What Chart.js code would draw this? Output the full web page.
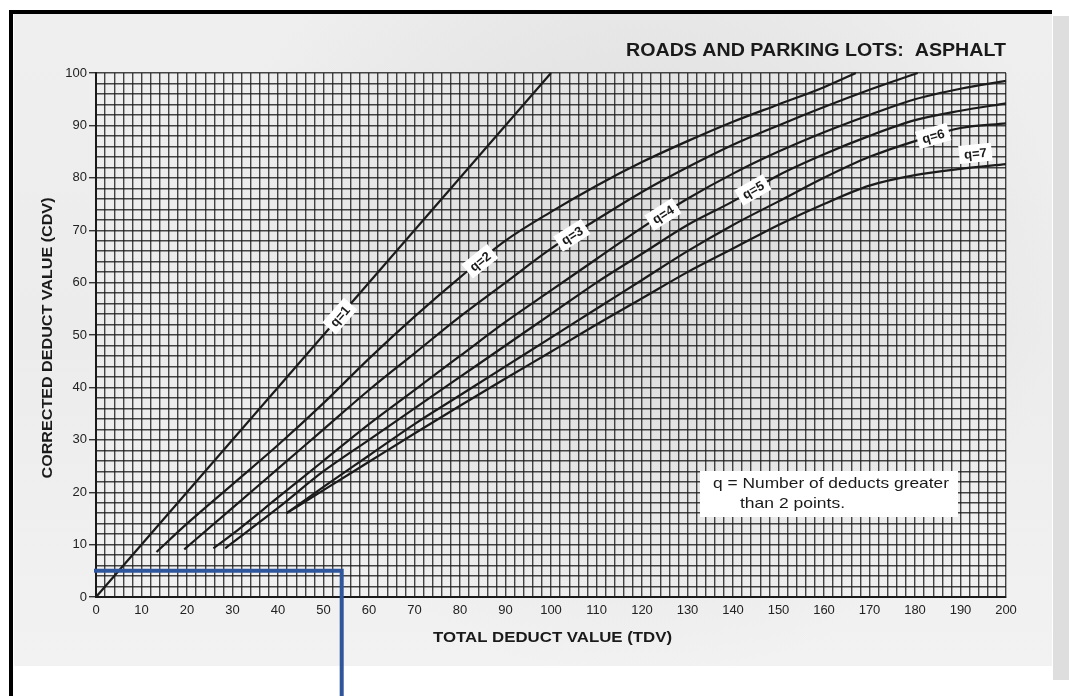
<!DOCTYPE html>
<html>
<head>
<meta charset="utf-8">
<style>
  html, body { margin: 0; padding: 0; background: #ffffff; }
  #wrap { position: relative; width: 1069px; height: 696px; }
  canvas { display: block; }
</style>
<script src="https://cdn.jsdelivr.net/npm/chart.js@4/dist/chart.umd.min.js"></script>
</head>
<body>
<div id="wrap"><canvas id="cdv" width="1069" height="696"></canvas></div>
<script>
// Corrected deduct value curves, one pair of arrays per q value
const tdvQ1 = [0, 100];
const cdvQ1 = [0, 100];

const tdvQ2 = [13.3, 20, 30, 40, 50, 60, 70, 80, 90, 100, 110, 120, 130, 140, 150, 160, 167];
const cdvQ2 = [8.6, 14, 21.5, 29, 37, 45.5, 53.5, 61, 68, 73.5, 78.5, 83, 87, 90.7, 94, 97.3, 100];

const tdvQ3 = [19.4, 30, 40, 50, 60, 70, 80, 90, 100, 110, 120, 130, 140, 150, 160, 170, 180.6];
const cdvQ3 = [9.1, 17, 24.5, 32, 39.5, 46.5, 53.5, 60, 66.5, 72, 77.3, 82, 86.3, 90, 93.5, 96.8, 100];

const tdvQ4 = [25.8, 30, 40, 50, 60, 70, 80, 90, 100, 110, 120, 130, 140, 150, 160, 170, 180, 190, 200];
const cdvQ4 = [9.3, 12, 19, 26, 33, 39.5, 46, 52.5, 58.5, 64.5, 70.5, 76, 80.8, 85, 88.7, 92, 95, 97, 98.5];

const tdvQ5 = [28.4, 40, 50, 60, 70, 80, 90, 100, 110, 120, 130, 140, 150, 160, 170, 180, 190, 200];
const cdvQ5 = [9.3, 17, 24, 30, 36, 42, 48, 54, 60, 65.5, 71, 75.5, 80.5, 84.5, 88, 91, 92.8, 94.2];

const tdvQ6 = [41.9, 50, 60, 70, 80, 90, 100, 110, 120, 130, 140, 150, 160, 170, 180, 190, 200];
const cdvQ6 = [16, 21, 27, 33, 38.5, 44, 49.5, 55, 60.5, 66, 71, 75.5, 80, 84, 87, 89.5, 90.4];

const tdvQ7 = [41.9, 50, 60, 70, 80, 90, 100, 110, 120, 130, 140, 150, 160, 170, 180, 190, 200];
const cdvQ7 = [16, 20.4, 25.8, 31.2, 36.5, 41.7, 46.8, 52, 57, 62, 66.5, 71, 75, 78.5, 80.5, 81.7, 82.6];

// Where each curve carries its "q=" tag (TDV)
const curveNames = ['q=1', 'q=2', 'q=3', 'q=4', 'q=5', 'q=6', 'q=7'];
const tagTdv = [53.6, 84.4, 104.6, 124.6, 144.4, 184, 193.6];

// Axis tick labels
const tdvTicks = [0, 10, 20, 30, 40, 50, 60, 70, 80, 90, 100, 110, 120, 130, 140, 150, 160, 170, 180, 190, 200];
const cdvTicks = [0, 10, 20, 30, 40, 50, 60, 70, 80, 90, 100];

// Reading marked on the chart: TDV and CDV of the blue guide
const guideTdv = 54;
const guideCdv = 5;

const chartTitle = 'ROADS AND PARKING LOTS:  ASPHALT';
const xTitle = 'TOTAL DEDUCT VALUE (TDV)';
const yTitle = 'CORRECTED DEDUCT VALUE (CDV)';
const noteLines = ['q = Number of deducts greater', 'than 2 points.'];

const curves = [
  [tdvQ1, cdvQ1], [tdvQ2, cdvQ2], [tdvQ3, cdvQ3], [tdvQ4, cdvQ4],
  [tdvQ5, cdvQ5], [tdvQ6, cdvQ6], [tdvQ7, cdvQ7]
];

function toPoints(xs, ys) { return xs.map((x, i) => ({ x: x, y: ys[i] })); }

function interp(xs, ys, x) {
  for (let i = 0; i < xs.length - 1; i++) {
    if (x >= xs[i] && x <= xs[i + 1]) {
      const t = (x - xs[i]) / (xs[i + 1] - xs[i]);
      return ys[i] + t * (ys[i + 1] - ys[i]);
    }
  }
  return x < xs[0] ? ys[0] : ys[ys.length - 1];
}

const FONT = "'Liberation Sans', Arial, Helvetica, sans-serif";

// Draws text squeezed or stretched to a set width
function fitText(c, text, x, y, width, align) {
  const w = c.measureText(text).width;
  const k = width / w;
  c.save();
  c.translate(x, y);
  c.scale(k, 1);
  c.textAlign = align;
  c.fillText(text, 0, 0);
  c.restore();
}

// Paper, frame and page edge behind the chart
const paperPlugin = {
  id: 'paper',
  beforeDraw(chart) {
    const c = chart.ctx;
    c.save();
    c.fillStyle = '#ffffff';
    c.fillRect(0, 0, chart.width, chart.height);
    const g = c.createLinearGradient(0, 15, 0, 665);
    g.addColorStop(0, '#efefef');
    g.addColorStop(0.5, '#ececec');
    g.addColorStop(1, '#f2f2f2');
    c.fillStyle = g;
    c.fillRect(14, 14, 1038, 652);
    const rg = c.createRadialGradient(640, 260, 20, 640, 260, 420);
    rg.addColorStop(0, 'rgba(150,150,150,0.2)');
    rg.addColorStop(1, 'rgba(150,150,150,0)');
    c.fillStyle = rg;
    c.fillRect(14, 14, 1038, 652);
    c.fillStyle = '#dedede';
    c.fillRect(1053, 16, 16, 664);
    c.fillStyle = '#000000';
    c.fillRect(9, 10, 1043, 4);
    c.fillRect(9, 10, 4, 686);
    c.restore();
  }
};

// Tags on the curves, note box, titles and the blue guide
const decorPlugin = {
  id: 'decor',
  afterDatasetsDraw(chart) {
    const c = chart.ctx;
    const xs = chart.scales.x, ys = chart.scales.y;
    c.save();
    curves.forEach((cv, i) => {
      const tx = tagTdv[i];
      const ty = interp(cv[0], cv[1], tx);
      const px = xs.getPixelForValue(tx), py = ys.getPixelForValue(ty);
      const dx = 2;
      const p1x = xs.getPixelForValue(tx - dx), p1y = ys.getPixelForValue(interp(cv[0], cv[1], tx - dx));
      const p2x = xs.getPixelForValue(tx + dx), p2y = ys.getPixelForValue(interp(cv[0], cv[1], tx + dx));
      const ang = Math.atan2(p2y - p1y, p2x - p1x);
      c.save();
      c.translate(px, py);
      c.rotate(ang);
      const off = (i === 6) ? -14 : 0;
      c.font = 'bold 13px ' + FONT;
      const w = c.measureText(curveNames[i]).width + 10;
      c.fillStyle = '#ffffff';
      c.fillRect(-w / 2, off - 9, w, 18);
      c.fillStyle = '#1a1a1a';
      c.textAlign = 'center';
      c.textBaseline = 'middle';
      c.fillText(curveNames[i], 0, off + 1);
      c.restore();
    });

    // note box
    c.fillStyle = '#ffffff';
    c.fillRect(700, 471, 258, 46);
    c.fillStyle = '#1a1a1a';
    c.font = '15px ' + FONT;
    c.textBaseline = 'middle';
    fitText(c, noteLines[0], 713, 484, 236, 'left');
    fitText(c, noteLines[1], 740, 504, 105, 'left');

    // chart title
    c.font = 'bold 18px ' + FONT;
    fitText(c, chartTitle, 1006, 51, 380, 'right');

    // axis titles
    c.font = 'bold 15px ' + FONT;
    fitText(c, xTitle, 433, 638, 239, 'left');
    c.save();
    c.translate(48, 338);
    c.rotate(-Math.PI / 2);
    fitText(c, yTitle, 0, 0, 281, 'center');
    c.restore();
    c.restore();
  },
  afterDraw(chart) {
    const c = chart.ctx;
    const xs = chart.scales.x, ys = chart.scales.y;
    const gx = xs.getPixelForValue(guideTdv);
    const gy = ys.getPixelForValue(guideCdv);
    c.save();
    c.strokeStyle = '#2f559a';
    c.lineWidth = 4;
    c.lineCap = 'butt';
    c.beginPath();
    c.moveTo(xs.left - 2, gy);
    c.lineTo(gx, gy);
    c.lineTo(gx, chart.height);
    c.stroke();
    c.restore();
  }
};

const datasets = curves.map((cv, i) => ({
  label: curveNames[i],
  data: toPoints(cv[0], cv[1]),
  borderColor: '#1b1b1b',
  borderWidth: 2.2,
  pointRadius: 0,
  fill: false,
  cubicInterpolationMode: 'monotone',
  clip: 2
}));

const gridColor = 'rgba(25,25,25,0.8)';

new Chart(document.getElementById('cdv'), {
  type: 'line',
  data: { datasets: datasets },
  options: {
    responsive: false,
    animation: false,
    events: [],
    layout: { padding: { top: 73, right: 63, bottom: 0, left: 0 } },
    plugins: { legend: { display: false }, tooltip: { enabled: false }, title: { display: false } },
    scales: {
      x: {
        type: 'linear',
        min: 0, max: 200,
        afterFit(s) { s.height = 99; },
        border: { display: true, color: '#1a1a1a', width: 2 },
        grid: { color: gridColor, lineWidth: 1.4, drawTicks: false },
        ticks: {
          stepSize: 2, maxTicksLimit: 200, autoSkip: false, maxRotation: 0, padding: 6,
          color: '#222222', font: { family: FONT, size: 13 },
          callback: (v) => (tdvTicks.includes(v) ? String(v) : '')
        }
      },
      y: {
        type: 'linear',
        min: 0, max: 100,
        afterFit(s) { s.width = 96; },
        border: { display: true, color: '#1a1a1a', width: 2 },
        grid: {
          color: gridColor, lineWidth: 1.4, drawTicks: true, tickLength: 7,
          tickColor: (ctx) => (ctx.tick && cdvTicks.includes(ctx.tick.value) ? '#333333' : 'rgba(0,0,0,0)')
        },
        ticks: {
          stepSize: 2, maxTicksLimit: 200, autoSkip: false, padding: 2,
          color: '#222222', font: { family: FONT, size: 13 },
          callback: (v) => (cdvTicks.includes(v) ? String(v) : '')
        }
      }
    }
  },
  plugins: [paperPlugin, decorPlugin]
});
</script>
</body>
</html>
